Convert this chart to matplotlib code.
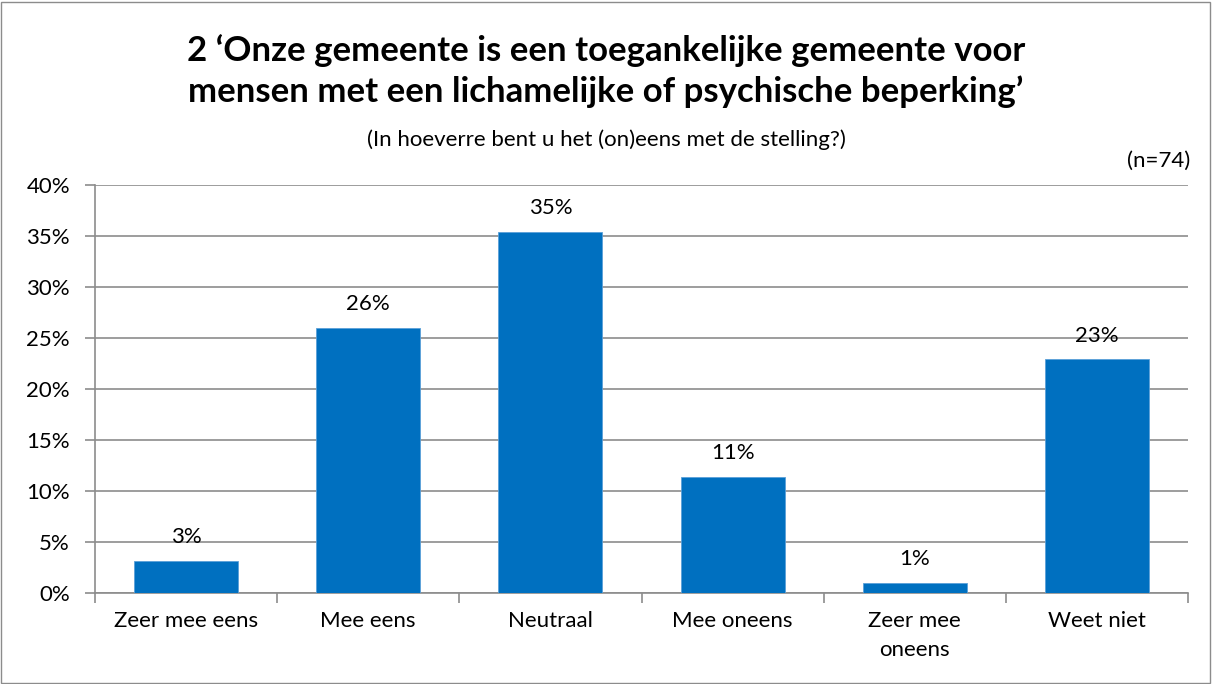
import matplotlib
matplotlib.use('Agg')
import matplotlib.pyplot as plt
from matplotlib.patches import Rectangle
from matplotlib.ticker import FuncFormatter

plt.rcParams['font.family'] = ['Lato', 'DejaVu Sans']

# data
categories = ['Zeer mee eens', 'Mee eens', 'Neutraal', 'Mee oneens', 'Zeer mee\noneens', 'Weet niet']
values = [3.1, 26.0, 35.4, 11.4, 1.0, 22.9]
labels = ['3%', '26%', '35%', '11%', '1%', '23%']
yticks = [0, 5, 10, 15, 20, 25, 30, 35, 40]

title = '2 \u2018Onze gemeente is een toegankelijke gemeente voor\nmensen met een lichamelijke of psychische beperking\u2019'
subtitle = '(In hoeverre bent u het (on)eens met de stelling?)'
n_label = '(n=74)'

W, H = 1212, 684
fig = plt.figure(figsize=(W / 100, H / 100), dpi=100)
ax = fig.add_axes([95 / W, 1 - 593 / H, (1188 - 95) / W, (593 - 185) / H])

grey = '#8c8c8c'
x = range(len(categories))
ax.bar(x, values, width=0.57, color='#0070C0', edgecolor='#5aa0d8', linewidth=0.6, zorder=3)
for i, (v, lab) in enumerate(zip(values, labels)):
    ax.annotate(lab, (i, v), xytext=(0, 10), textcoords='offset points',
                ha='center', va='bottom', fontsize=16)

ax.set_xlim(-0.5, len(categories) - 0.5)
ax.set_ylim(0, 40)
ax.set_yticks(yticks)
ax.yaxis.set_major_formatter(FuncFormatter(lambda v, p: f'{v:.0f}%'))
ax.grid(axis='y', color=grey, linewidth=1.2, zorder=0)
# category boundaries get the tick marks, names sit in between
ax.set_xticks([i + 0.5 for i in range(-1, len(categories))])
ax.set_xticklabels([])
ax.set_xticks(list(x), minor=True)
ax.set_xticklabels(categories, minor=True, fontsize=16, linespacing=1.55)
ax.tick_params(axis='x', which='minor', length=0, pad=13)
ax.tick_params(axis='x', which='major', length=7, color=grey, width=1.2)
ax.tick_params(axis='y', length=7, color=grey, width=1.2, labelsize=16, pad=11)
for s in ['top', 'right']:
    ax.spines[s].set_visible(False)
for s in ['left', 'bottom']:
    ax.spines[s].set_color(grey)
    ax.spines[s].set_linewidth(1.2)

fig.text(0.5, 1 - 71 / H, title, ha='center', va='center', fontsize=25,
         fontweight='bold', linespacing=1.3)
fig.text(0.5, 1 - 140 / H, subtitle, ha='center', va='center', fontsize=16)
fig.text(1190 / W, 1 - 161 / H, n_label, ha='right', va='center', fontsize=16)

fig.patches.append(Rectangle((1 / W, 1 / H), 1 - 3 / W, 1 - 3 / H, transform=fig.transFigure,
                             fill=False, edgecolor=grey, linewidth=1))

fig.savefig('out.png', dpi=100)
